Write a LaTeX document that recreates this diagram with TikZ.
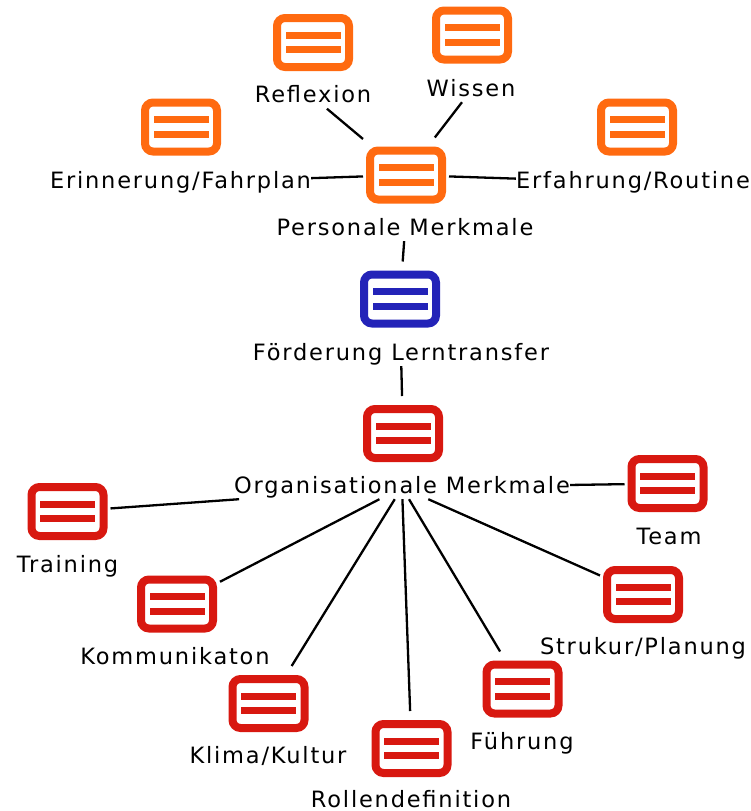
\documentclass[tikz,border=0pt]{standalone}
\usepackage{fontspec}
\newfontfamily\lblfont[LetterSpace=8]{DejaVu Sans}
\definecolor{persorange}{HTML}{FF6A10}
\definecolor{goalblue}{HTML}{2323B8}
\definecolor{orgred}{HTML}{D81810}
\tikzset{
  icon/.style={draw=#1, line width=8pt, rounded corners=8pt,
    minimum width=72pt, minimum height=49pt, inner sep=0pt,
    outer xsep=7pt, outer ysep=13pt, fill=white,
    path picture={
      \fill[#1, sharp corners] ([xshift=-27.5pt,yshift=3.7pt]path picture bounding box.center) rectangle ++(55pt,7pt);
      \fill[#1, sharp corners] ([xshift=-27.5pt,yshift=-10.7pt]path picture bounding box.center) rectangle ++(55pt,7pt);
    }},
  lbl/.style={font=\lblfont\fontsize{22.5pt}{26pt}\selectfont,
    text height=17pt, text depth=6pt, inner xsep=0pt, inner ysep=0pt, anchor=base},
  link/.style={line width=2.3pt, black}
}
\begin{document}
\begin{tikzpicture}[x=1pt, y=-1pt]
\useasboundingbox (0,0) rectangle (751,811);

% personal characteristics (orange)
\node[icon=persorange] (reflI) at (313,42.5) {};
\node[lbl] (reflL) at (313,102.5) {Reflexion};
\node[icon=persorange] (wissI) at (472,35) {};
\node[lbl] (wissL) at (471,96) {Wissen};
\node[icon=persorange] (erinI) at (181,127) {};
\node[lbl] (erinL) at (180.5,188) {Erinnerung/Fahrplan};
\node[icon=persorange] (erfI) at (637,127) {};
\node[lbl] (erfL) at (633,188) {Erfahrung/Routine};
\node[icon=persorange] (persI) at (406,175) {};
\node[lbl] (persL) at (405,235) {Personale Merkmale};

% central topic (blue)
\node[icon=goalblue] (foerI) at (400,299) {};
\node[lbl] (foerL) at (401,360) {Förderung Lerntransfer};

% organisational characteristics (red)
\node[icon=orgred] (orgI) at (403,433.5) {};
\node[lbl] (orgL) at (402,493) {Organisationale Merkmale};
\node[icon=orgred] (teamI) at (667.5,483.5) {};
\node[lbl] (teamL) at (669,544) {Team};
\node[icon=orgred] (trainI) at (67.5,511.5) {};
\node[lbl] (trainL) at (67.5,572) {Training};
\node[icon=orgred] (strukI) at (643,594.5) {};
\node[lbl] (strukL) at (643,654) {Strukur/Planung};
\node[icon=orgred] (kommI) at (177,604) {};
\node[lbl] (kommL) at (175,664) {Kommunikaton};
\node[icon=orgred] (fuehrI) at (522.5,689) {};
\node[lbl] (fuehrL) at (522,749) {Führung};
\node[icon=orgred] (klimaI) at (268.5,703.5) {};
\node[lbl] (klimaL) at (268,763) {Klima/Kultur};
\node[icon=orgred] (rollI) at (411.5,748.5) {};
\node[lbl] (rollL) at (411,807) {Rollendefinition};

% connectors
\draw[link] (reflL) -- (persI);
\draw[link] (wissL) -- (persI);
\draw[link] (erinL) -- (persI);
\draw[link] (persI) -- (erfL);
\draw[link] (persL) -- (foerI);
\draw[link] (foerL) -- (orgI);
\draw[link] (orgL) -- (trainI);
\draw[link] (orgL) -- (teamI);
\draw[link] (orgL) -- (kommI);
\draw[link] (orgL) -- (klimaI);
\draw[link] (orgL) -- (rollI);
\draw[link] (orgL) -- (fuehrI);
\draw[link] (orgL) -- (strukI);
\end{tikzpicture}
\end{document}
